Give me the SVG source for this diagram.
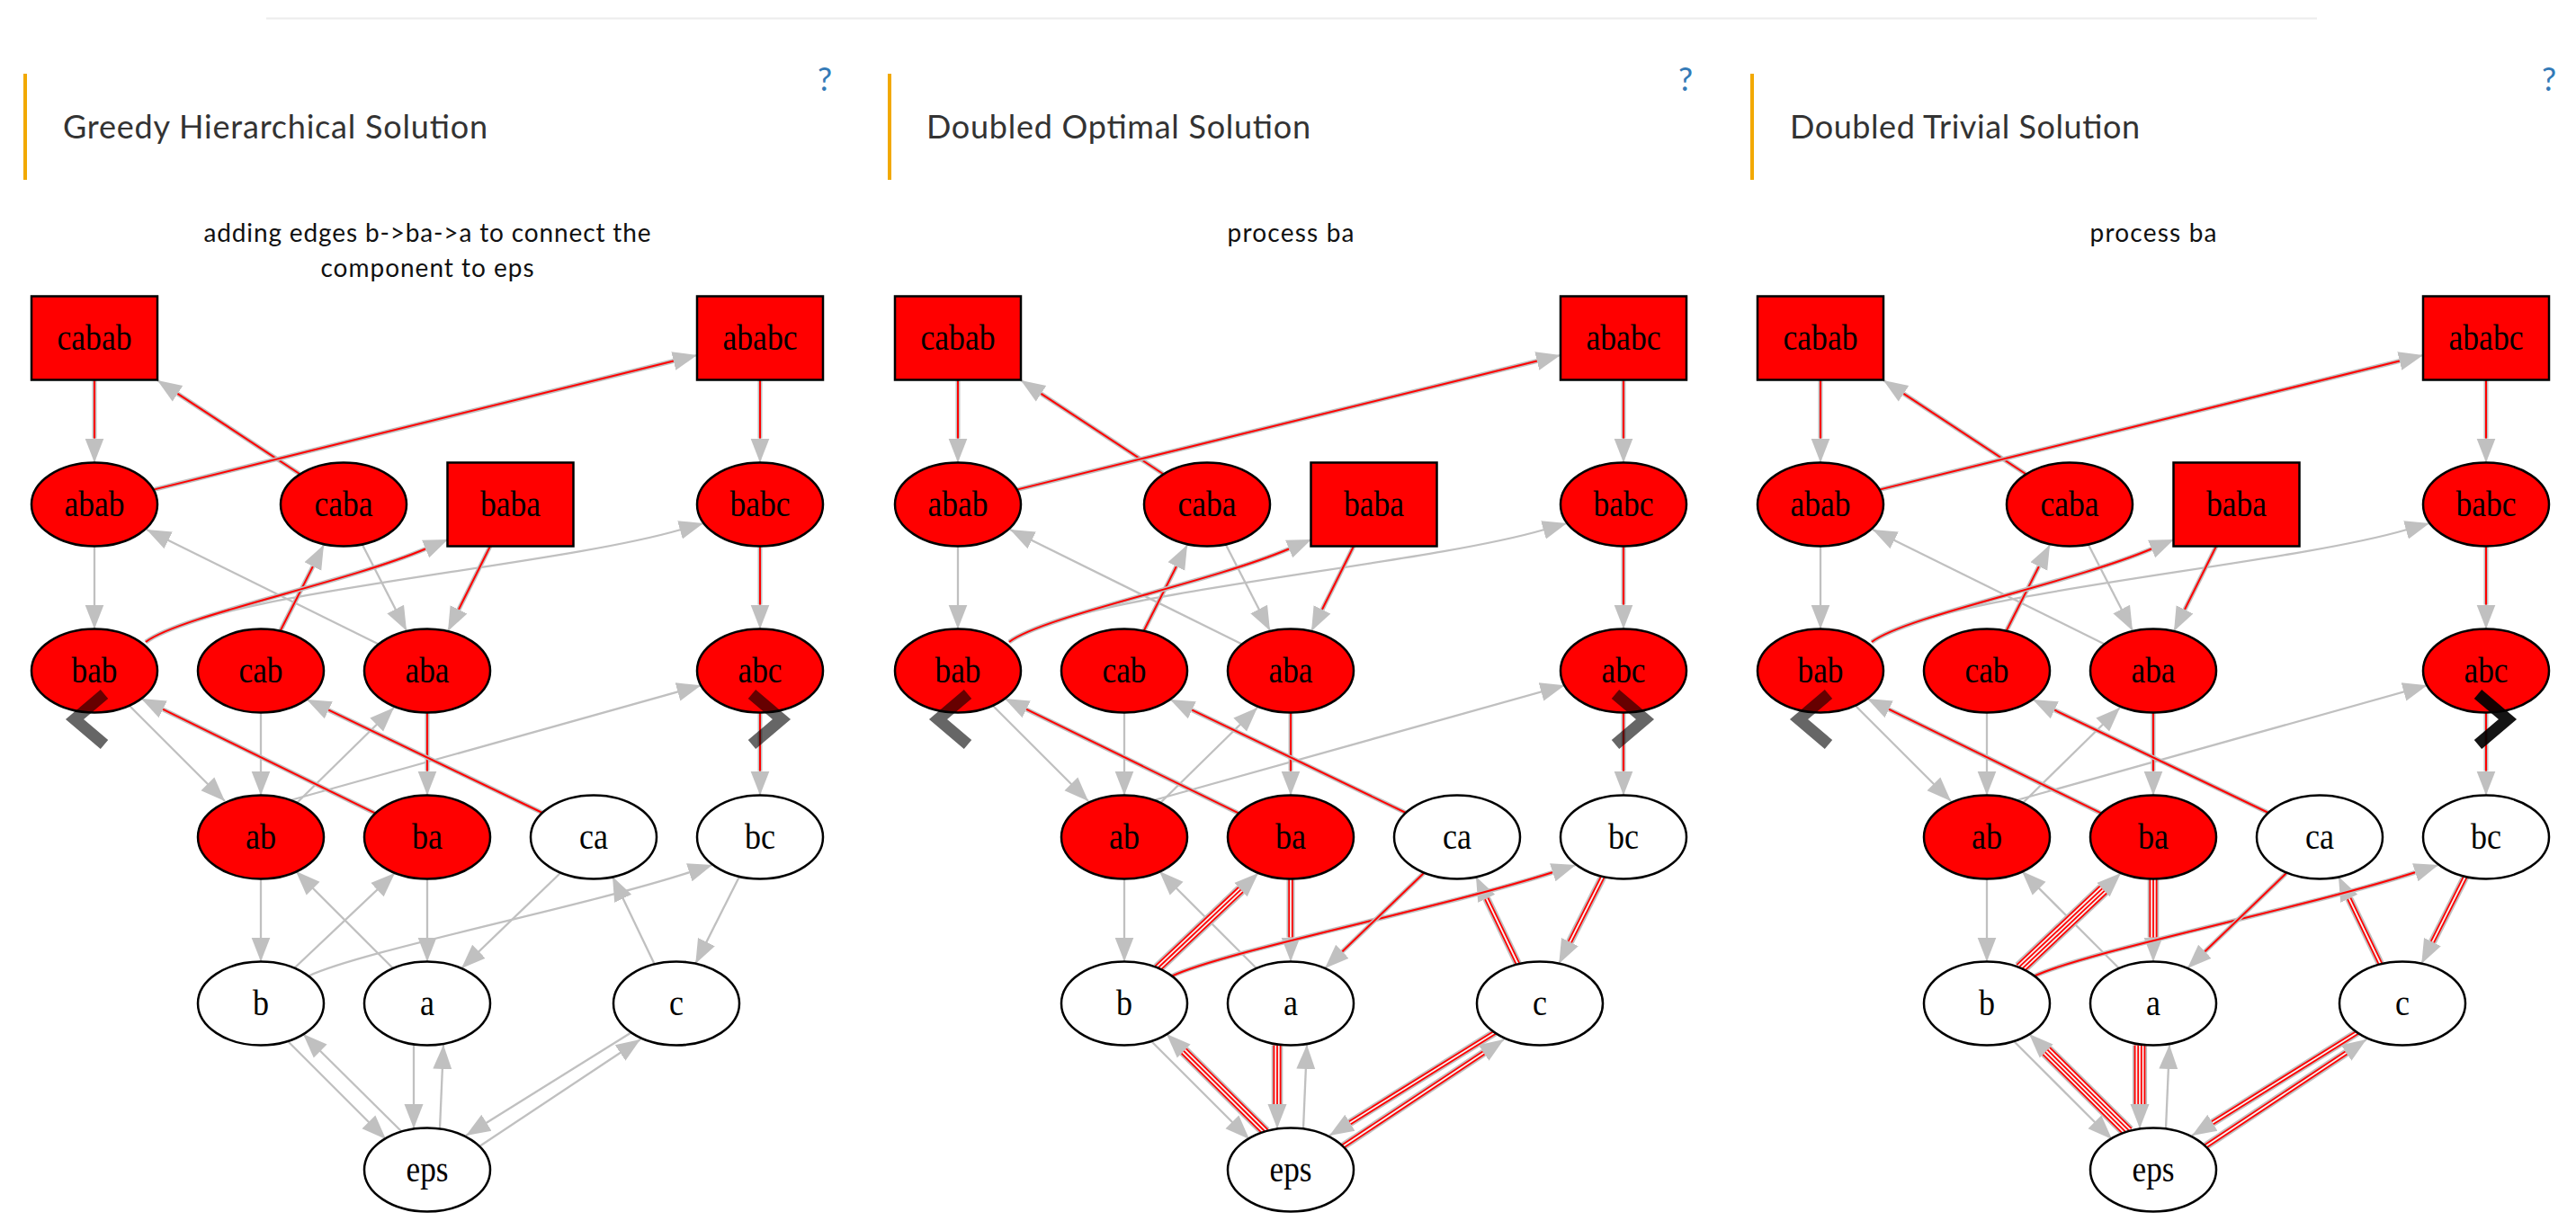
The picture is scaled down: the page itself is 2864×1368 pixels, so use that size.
<svg xmlns="http://www.w3.org/2000/svg" xmlns:xlink="http://www.w3.org/1999/xlink" width="2864" height="1368" viewBox="0 0 2864 1368">
<style>
.title{font-family:Lato,"Open Sans","Liberation Sans",sans-serif;font-size:36px;font-weight:400;fill:#333}
.q{font-family:Lato,"Open Sans","Liberation Sans",sans-serif;font-size:36px;fill:#337ab7;text-anchor:middle}
.cap{font-family:Lato,"Open Sans","Liberation Sans",sans-serif;font-size:28px;fill:#111;text-anchor:middle}
.lbl{font-family:"Liberation Serif","Times New Roman",serif;font-size:39px;fill:#000;text-anchor:middle}
.nr{fill:#ff0000;stroke:#000;stroke-width:2.5}
.nw{fill:#fff;stroke:#000;stroke-width:2.5}
.e{fill:none;stroke:#c0c0c0;stroke-width:2.3;marker-end:url(#arr)}
.g{fill:none;stroke:#c0c0c0}
.r{fill:none;stroke:#ff0000}
.l{fill:none;stroke:#f4f4f4}
.w18{stroke-width:1.8}.w2{stroke-width:2}.w5{stroke-width:5}.w54{stroke-width:5.4}.w9{stroke-width:9}.w126{stroke-width:12.6}.w162{stroke-width:16.2}
.bar{fill:#f2a900}
.chev{fill:none;stroke:#000;stroke-width:13;stroke-opacity:0.6}
</style>
<defs>
<marker id="arr" markerUnits="userSpaceOnUse" markerWidth="30" markerHeight="24" refX="27" refY="12" orient="auto"><path d="M0,1.5 L27,12 L0,22.5 z" fill="#c0c0c0"/></marker>
<path id="b1" d="M105,422.5 L105,487.5"/>
<path id="b2" d="M845,422.5 L845,487.5"/>
<path id="b4" d="M845,607.5 L845,672.5"/>
<path id="b5" d="M333,527 L197.5,437.8"/>
<path id="b6" d="M170.5,544.6 L748.8,401.5"/>
<path id="b9" d="M312,701 L347.8,630.1"/>
<path id="b10" d="M162,714 C200,685 382,649 473,610.5"/>
<path id="b36" d="M545,607.5 L510,677.8"/>
<path id="b17" d="M475,792.5 L475,857.5"/>
<path id="b18" d="M845,792.5 L845,857.5"/>
<path id="b19" d="M417,904.4 L181.2,788.9"/>
<path id="b20" d="M603,904 L365.3,789.7"/>
<path id="b12" d="M342,1086 C400,1058 643,1010 766,970.3"/>
<path id="b22" d="M475,977.5 L475,1042.5"/>
<path id="b24" d="M327,1077 L419.4,989.6"/>
<path id="b25" d="M623,971 L532.4,1058.3"/>
<path id="b26" d="M728,1073 L692.7,999.3"/>
<path id="b27" d="M822,975 L785.4,1047.6"/>
<path id="b29" d="M447,1259 L356.2,1169"/>
<path id="b30" d="M460,1162.5 L460,1228"/>
<path id="b32" d="M702,1148.3 L540.9,1248.7"/>
<path id="b33" d="M533,1275 L689.5,1171"/>
<g id="grayEdges">
<path class="e" d="M105,422.5 L105,514.5"/>
<path class="e" d="M845,422.5 L845,514.5"/>
<path class="e" d="M105,607.5 L105,699.5"/>
<path class="e" d="M845,607.5 L845,699.5"/>
<path class="e" d="M333,527 L175,423"/>
<path class="e" d="M170.5,544.6 L775,395"/>
<path class="e" d="M420,716 L163,589"/>
<path class="e" d="M403,606 L452,701.5"/>
<path class="e" d="M312,701 L360,606"/>
<path class="e" d="M162,714 C200,685 382,649 473,610.5 L498,600"/>
<path class="e" d="M163,714 C230,660 613,631 757,589 L782,582"/>
<path class="e" d="M545,607.5 L498,702"/>
<path class="e" d="M323,890 L779.5,762.2"/>
<path class="e" d="M330,893 L438,787"/>
<path class="e" d="M144,785 L250,891"/>
<path class="e" d="M290,792.5 L290,884.5"/>
<path class="e" d="M475,792.5 L475,884.5"/>
<path class="e" d="M845,792.5 L845,884.5"/>
<path class="e" d="M417,904.4 L157,777"/>
<path class="e" d="M603,904 L341,778"/>
<path class="e" d="M290,977.5 L290,1069.5"/>
<path class="e" d="M475,977.5 L475,1069.5"/>
<path class="e" d="M437,1077 L329,969"/>
<path class="e" d="M327,1077 L439,971"/>
<path class="e" d="M623,971 L513,1077"/>
<path class="e" d="M728,1073 L681,975"/>
<path class="e" d="M822,975 L773.3,1071.7"/>
<path class="e" d="M342,1086 C400,1058 643,1010 766,970.3 L792,962"/>
<path class="e" d="M320,1158 L429,1267"/>
<path class="e" d="M447,1259 L337,1150"/>
<path class="e" d="M460,1162.5 L460,1255"/>
<path class="e" d="M489,1255 L493,1162"/>
<path class="e" d="M702,1148.3 L518,1263"/>
<path class="e" d="M533,1275 L712,1156"/>
</g>
<g id="topBands">
<use href="#b1" class="g w5"/><use href="#b1" class="r w2"/>
<use href="#b2" class="g w5"/><use href="#b2" class="r w2"/>
<use href="#b4" class="g w5"/><use href="#b4" class="r w2"/>
<use href="#b5" class="g w5"/><use href="#b5" class="r w2"/>
<use href="#b6" class="g w5"/><use href="#b6" class="r w2"/>
<use href="#b9" class="g w5"/><use href="#b9" class="r w2"/>
<use href="#b10" class="g w5"/><use href="#b10" class="r w2"/>
<use href="#b36" class="g w5"/><use href="#b36" class="r w2"/>
<use href="#b17" class="g w5"/><use href="#b17" class="r w2"/>
<use href="#b18" class="g w5"/><use href="#b18" class="r w2"/>
<use href="#b19" class="g w5"/><use href="#b19" class="r w2"/>
<use href="#b20" class="g w5"/><use href="#b20" class="r w2"/>
</g>
</defs>
<rect width="2864" height="1368" fill="#fff"/>
<line x1="296" y1="20.5" x2="2576" y2="20.5" stroke="#ececec" stroke-width="2"/>

<!-- Panel 1 -->
<g id="panel-greedy">
<g id="p1-header">
<rect class="bar" x="26" y="82" width="4" height="118"/>
<text class="title" x="70" y="154" textLength="472">Greedy Hierarchical Solution</text>
<text class="q" x="917" y="101">?</text>
<text class="cap" x="475" y="269" textLength="497">adding edges b-&gt;ba-&gt;a to connect the</text>
<text class="cap" x="475" y="308" textLength="237">component to eps</text>
</g>
<g id="p1-connectors">
<use href="#grayEdges"/>
<use href="#topBands"/>
</g>
<g id="p1-cabab"><rect class="nr" x="35" y="329.5" width="140" height="93"/><text class="lbl" x="105" y="389" textLength="83" lengthAdjust="spacingAndGlyphs">cabab</text></g>
<g id="p1-ababc"><rect class="nr" x="775" y="329.5" width="140" height="93"/><text class="lbl" x="845" y="389" textLength="83" lengthAdjust="spacingAndGlyphs">ababc</text></g>
<g id="p1-abab"><ellipse class="nr" cx="105" cy="561" rx="70" ry="46.5"/><text class="lbl" x="105" y="574" textLength="67" lengthAdjust="spacingAndGlyphs">abab</text></g>
<g id="p1-caba"><ellipse class="nr" cx="382" cy="561" rx="70" ry="46.5"/><text class="lbl" x="382" y="574" textLength="65" lengthAdjust="spacingAndGlyphs">caba</text></g>
<g id="p1-baba"><rect class="nr" x="497.5" y="514.5" width="140" height="93"/><text class="lbl" x="567.5" y="574" textLength="67" lengthAdjust="spacingAndGlyphs">baba</text></g>
<g id="p1-babc"><ellipse class="nr" cx="845" cy="561" rx="70" ry="46.5"/><text class="lbl" x="845" y="574" textLength="67" lengthAdjust="spacingAndGlyphs">babc</text></g>
<g id="p1-bab"><ellipse class="nr" cx="105" cy="746" rx="70" ry="46.5"/><text class="lbl" x="105" y="759" textLength="51" lengthAdjust="spacingAndGlyphs">bab</text></g>
<g id="p1-cab"><ellipse class="nr" cx="290" cy="746" rx="70" ry="46.5"/><text class="lbl" x="290" y="759" textLength="49" lengthAdjust="spacingAndGlyphs">cab</text></g>
<g id="p1-aba"><ellipse class="nr" cx="475" cy="746" rx="70" ry="46.5"/><text class="lbl" x="475" y="759" textLength="49" lengthAdjust="spacingAndGlyphs">aba</text></g>
<g id="p1-abc"><ellipse class="nr" cx="845" cy="746" rx="70" ry="46.5"/><text class="lbl" x="845" y="759" textLength="49" lengthAdjust="spacingAndGlyphs">abc</text></g>
<g id="p1-ab"><ellipse class="nr" cx="290" cy="931" rx="70" ry="46.5"/><text class="lbl" x="290" y="944" textLength="34" lengthAdjust="spacingAndGlyphs">ab</text></g>
<g id="p1-ba"><ellipse class="nr" cx="475" cy="931" rx="70" ry="46.5"/><text class="lbl" x="475" y="944" textLength="34" lengthAdjust="spacingAndGlyphs">ba</text></g>
<g id="p1-ca"><ellipse class="nw" cx="660" cy="931" rx="70" ry="46.5"/><text class="lbl" x="660" y="944" textLength="32" lengthAdjust="spacingAndGlyphs">ca</text></g>
<g id="p1-bc"><ellipse class="nw" cx="845" cy="931" rx="70" ry="46.5"/><text class="lbl" x="845" y="944" textLength="34" lengthAdjust="spacingAndGlyphs">bc</text></g>
<g id="p1-b"><ellipse class="nw" cx="290" cy="1116" rx="70" ry="46.5"/><text class="lbl" x="290" y="1129" textLength="18" lengthAdjust="spacingAndGlyphs">b</text></g>
<g id="p1-a"><ellipse class="nw" cx="475" cy="1116" rx="70" ry="46.5"/><text class="lbl" x="475" y="1129" textLength="16" lengthAdjust="spacingAndGlyphs">a</text></g>
<g id="p1-c"><ellipse class="nw" cx="752" cy="1116" rx="70" ry="46.5"/><text class="lbl" x="752" y="1129" textLength="16" lengthAdjust="spacingAndGlyphs">c</text></g>
<g id="p1-eps"><ellipse class="nw" cx="475" cy="1301" rx="70" ry="46.5"/><text class="lbl" x="475" y="1314" textLength="47" lengthAdjust="spacingAndGlyphs">eps</text></g>
<g id="p1-nav">
<polyline class="chev" points="116,772 83,800 116,828"/>
<polyline class="chev" points="836,772 869,800 836,828"/>
</g>
</g>

<!-- Panel 2 -->
<g id="panel-optimal" transform="translate(960,0)">
<g id="p2-header">
<rect class="bar" x="27" y="82" width="4" height="118"/>
<text class="title" x="70" y="154" textLength="427">Doubled Optimal Solution</text>
<text class="q" x="914" y="101">?</text>
<text class="cap" x="475" y="269" textLength="141">process ba</text>
</g>
<g id="p2-connectors">
<use href="#grayEdges"/>
<use href="#topBands"/>
<use href="#b24" class="g w126"/><use href="#b24" class="r w9"/><use href="#b24" class="l w54"/><use href="#b24" class="r w18"/>
<use href="#b22" class="g w9"/><use href="#b22" class="r w54"/><use href="#b22" class="l w18"/>
<use href="#b12" class="g w5"/><use href="#b12" class="r w2"/>
<use href="#b25" class="g w5"/><use href="#b25" class="r w2"/>
<use href="#b26" class="g w9"/><use href="#b26" class="r w54"/><use href="#b26" class="l w18"/>
<use href="#b27" class="g w9"/><use href="#b27" class="r w54"/><use href="#b27" class="l w18"/>
<use href="#b29" class="g w126"/><use href="#b29" class="r w9"/><use href="#b29" class="l w54"/><use href="#b29" class="r w18"/>
<use href="#b30" class="g w126"/><use href="#b30" class="r w9"/><use href="#b30" class="l w54"/><use href="#b30" class="r w18"/>
<use href="#b32" class="g w9"/><use href="#b32" class="r w54"/><use href="#b32" class="l w18"/>
<use href="#b33" class="g w9"/><use href="#b33" class="r w54"/><use href="#b33" class="l w18"/>
</g>
<g id="p2-cabab"><rect class="nr" x="35" y="329.5" width="140" height="93"/><text class="lbl" x="105" y="389" textLength="83" lengthAdjust="spacingAndGlyphs">cabab</text></g>
<g id="p2-ababc"><rect class="nr" x="775" y="329.5" width="140" height="93"/><text class="lbl" x="845" y="389" textLength="83" lengthAdjust="spacingAndGlyphs">ababc</text></g>
<g id="p2-abab"><ellipse class="nr" cx="105" cy="561" rx="70" ry="46.5"/><text class="lbl" x="105" y="574" textLength="67" lengthAdjust="spacingAndGlyphs">abab</text></g>
<g id="p2-caba"><ellipse class="nr" cx="382" cy="561" rx="70" ry="46.5"/><text class="lbl" x="382" y="574" textLength="65" lengthAdjust="spacingAndGlyphs">caba</text></g>
<g id="p2-baba"><rect class="nr" x="497.5" y="514.5" width="140" height="93"/><text class="lbl" x="567.5" y="574" textLength="67" lengthAdjust="spacingAndGlyphs">baba</text></g>
<g id="p2-babc"><ellipse class="nr" cx="845" cy="561" rx="70" ry="46.5"/><text class="lbl" x="845" y="574" textLength="67" lengthAdjust="spacingAndGlyphs">babc</text></g>
<g id="p2-bab"><ellipse class="nr" cx="105" cy="746" rx="70" ry="46.5"/><text class="lbl" x="105" y="759" textLength="51" lengthAdjust="spacingAndGlyphs">bab</text></g>
<g id="p2-cab"><ellipse class="nr" cx="290" cy="746" rx="70" ry="46.5"/><text class="lbl" x="290" y="759" textLength="49" lengthAdjust="spacingAndGlyphs">cab</text></g>
<g id="p2-aba"><ellipse class="nr" cx="475" cy="746" rx="70" ry="46.5"/><text class="lbl" x="475" y="759" textLength="49" lengthAdjust="spacingAndGlyphs">aba</text></g>
<g id="p2-abc"><ellipse class="nr" cx="845" cy="746" rx="70" ry="46.5"/><text class="lbl" x="845" y="759" textLength="49" lengthAdjust="spacingAndGlyphs">abc</text></g>
<g id="p2-ab"><ellipse class="nr" cx="290" cy="931" rx="70" ry="46.5"/><text class="lbl" x="290" y="944" textLength="34" lengthAdjust="spacingAndGlyphs">ab</text></g>
<g id="p2-ba"><ellipse class="nr" cx="475" cy="931" rx="70" ry="46.5"/><text class="lbl" x="475" y="944" textLength="34" lengthAdjust="spacingAndGlyphs">ba</text></g>
<g id="p2-ca"><ellipse class="nw" cx="660" cy="931" rx="70" ry="46.5"/><text class="lbl" x="660" y="944" textLength="32" lengthAdjust="spacingAndGlyphs">ca</text></g>
<g id="p2-bc"><ellipse class="nw" cx="845" cy="931" rx="70" ry="46.5"/><text class="lbl" x="845" y="944" textLength="34" lengthAdjust="spacingAndGlyphs">bc</text></g>
<g id="p2-b"><ellipse class="nw" cx="290" cy="1116" rx="70" ry="46.5"/><text class="lbl" x="290" y="1129" textLength="18" lengthAdjust="spacingAndGlyphs">b</text></g>
<g id="p2-a"><ellipse class="nw" cx="475" cy="1116" rx="70" ry="46.5"/><text class="lbl" x="475" y="1129" textLength="16" lengthAdjust="spacingAndGlyphs">a</text></g>
<g id="p2-c"><ellipse class="nw" cx="752" cy="1116" rx="70" ry="46.5"/><text class="lbl" x="752" y="1129" textLength="16" lengthAdjust="spacingAndGlyphs">c</text></g>
<g id="p2-eps"><ellipse class="nw" cx="475" cy="1301" rx="70" ry="46.5"/><text class="lbl" x="475" y="1314" textLength="47" lengthAdjust="spacingAndGlyphs">eps</text></g>
<g id="p2-nav">
<polyline class="chev" points="116,772 83,800 116,828"/>
<polyline class="chev" points="836,772 869,800 836,828"/>
</g>
</g>

<!-- Panel 3 -->
<g id="panel-trivial" transform="translate(1919,0)">
<g id="p3-header">
<rect class="bar" x="27" y="82" width="4" height="118"/>
<text class="title" x="71" y="154" textLength="389">Doubled Trivial Solution</text>
<text class="q" x="915" y="101">?</text>
<text class="cap" x="475" y="269" textLength="141">process ba</text>
</g>
<g id="p3-connectors">
<use href="#grayEdges"/>
<use href="#topBands"/>
<use href="#b24" class="g w162"/><use href="#b24" class="r w126"/><use href="#b24" class="l w9"/><use href="#b24" class="r w54"/><use href="#b24" class="l w18"/>
<use href="#b22" class="g w126"/><use href="#b22" class="r w9"/><use href="#b22" class="l w54"/><use href="#b22" class="r w18"/>
<use href="#b12" class="g w5"/><use href="#b12" class="r w2"/>
<use href="#b25" class="g w5"/><use href="#b25" class="r w2"/>
<use href="#b26" class="g w9"/><use href="#b26" class="r w54"/><use href="#b26" class="l w18"/>
<use href="#b27" class="g w9"/><use href="#b27" class="r w54"/><use href="#b27" class="l w18"/>
<use href="#b29" class="g w162"/><use href="#b29" class="r w126"/><use href="#b29" class="l w9"/><use href="#b29" class="r w54"/><use href="#b29" class="l w18"/>
<use href="#b30" class="g w162"/><use href="#b30" class="r w126"/><use href="#b30" class="l w9"/><use href="#b30" class="r w54"/><use href="#b30" class="l w18"/>
<use href="#b32" class="g w9"/><use href="#b32" class="r w54"/><use href="#b32" class="l w18"/>
<use href="#b33" class="g w9"/><use href="#b33" class="r w54"/><use href="#b33" class="l w18"/>
</g>
<g id="p3-cabab"><rect class="nr" x="35" y="329.5" width="140" height="93"/><text class="lbl" x="105" y="389" textLength="83" lengthAdjust="spacingAndGlyphs">cabab</text></g>
<g id="p3-ababc"><rect class="nr" x="775" y="329.5" width="140" height="93"/><text class="lbl" x="845" y="389" textLength="83" lengthAdjust="spacingAndGlyphs">ababc</text></g>
<g id="p3-abab"><ellipse class="nr" cx="105" cy="561" rx="70" ry="46.5"/><text class="lbl" x="105" y="574" textLength="67" lengthAdjust="spacingAndGlyphs">abab</text></g>
<g id="p3-caba"><ellipse class="nr" cx="382" cy="561" rx="70" ry="46.5"/><text class="lbl" x="382" y="574" textLength="65" lengthAdjust="spacingAndGlyphs">caba</text></g>
<g id="p3-baba"><rect class="nr" x="497.5" y="514.5" width="140" height="93"/><text class="lbl" x="567.5" y="574" textLength="67" lengthAdjust="spacingAndGlyphs">baba</text></g>
<g id="p3-babc"><ellipse class="nr" cx="845" cy="561" rx="70" ry="46.5"/><text class="lbl" x="845" y="574" textLength="67" lengthAdjust="spacingAndGlyphs">babc</text></g>
<g id="p3-bab"><ellipse class="nr" cx="105" cy="746" rx="70" ry="46.5"/><text class="lbl" x="105" y="759" textLength="51" lengthAdjust="spacingAndGlyphs">bab</text></g>
<g id="p3-cab"><ellipse class="nr" cx="290" cy="746" rx="70" ry="46.5"/><text class="lbl" x="290" y="759" textLength="49" lengthAdjust="spacingAndGlyphs">cab</text></g>
<g id="p3-aba"><ellipse class="nr" cx="475" cy="746" rx="70" ry="46.5"/><text class="lbl" x="475" y="759" textLength="49" lengthAdjust="spacingAndGlyphs">aba</text></g>
<g id="p3-abc"><ellipse class="nr" cx="845" cy="746" rx="70" ry="46.5"/><text class="lbl" x="845" y="759" textLength="49" lengthAdjust="spacingAndGlyphs">abc</text></g>
<g id="p3-ab"><ellipse class="nr" cx="290" cy="931" rx="70" ry="46.5"/><text class="lbl" x="290" y="944" textLength="34" lengthAdjust="spacingAndGlyphs">ab</text></g>
<g id="p3-ba"><ellipse class="nr" cx="475" cy="931" rx="70" ry="46.5"/><text class="lbl" x="475" y="944" textLength="34" lengthAdjust="spacingAndGlyphs">ba</text></g>
<g id="p3-ca"><ellipse class="nw" cx="660" cy="931" rx="70" ry="46.5"/><text class="lbl" x="660" y="944" textLength="32" lengthAdjust="spacingAndGlyphs">ca</text></g>
<g id="p3-bc"><ellipse class="nw" cx="845" cy="931" rx="70" ry="46.5"/><text class="lbl" x="845" y="944" textLength="34" lengthAdjust="spacingAndGlyphs">bc</text></g>
<g id="p3-b"><ellipse class="nw" cx="290" cy="1116" rx="70" ry="46.5"/><text class="lbl" x="290" y="1129" textLength="18" lengthAdjust="spacingAndGlyphs">b</text></g>
<g id="p3-a"><ellipse class="nw" cx="475" cy="1116" rx="70" ry="46.5"/><text class="lbl" x="475" y="1129" textLength="16" lengthAdjust="spacingAndGlyphs">a</text></g>
<g id="p3-c"><ellipse class="nw" cx="752" cy="1116" rx="70" ry="46.5"/><text class="lbl" x="752" y="1129" textLength="16" lengthAdjust="spacingAndGlyphs">c</text></g>
<g id="p3-eps"><ellipse class="nw" cx="475" cy="1301" rx="70" ry="46.5"/><text class="lbl" x="475" y="1314" textLength="47" lengthAdjust="spacingAndGlyphs">eps</text></g>
<g id="p3-nav">
<polyline class="chev" points="114,772 81,800 114,828"/>
<polyline class="chev" style="stroke-opacity:0.92" points="836,772 869,800 836,828"/>
</g>
</g>
</svg>
